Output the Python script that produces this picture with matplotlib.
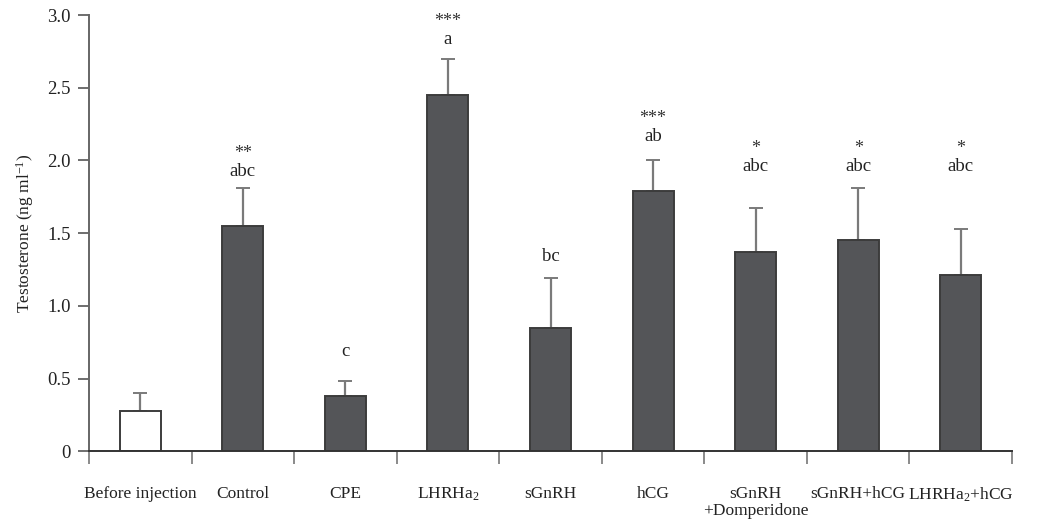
import matplotlib
matplotlib.use("Agg")
import matplotlib.pyplot as plt
import numpy as np

# Serum testosterone after hormone treatments (mean + SEM)
groups = ["Before injection", "Control", "CPE", "$\\mathregular{LHRHa_2}$", "sGnRH", "hCG",
          "sGnRH\n+Domperidone", "sGnRH+hCG", "$\\mathregular{LHRHa_2}$+hCG"]
means = [0.28, 1.55, 0.38, 2.45, 0.85, 1.79, 1.37, 1.45, 1.21]
sems = [0.12, 0.26, 0.10, 0.25, 0.34, 0.21, 0.30, 0.36, 0.32]
letters = ["", "abc", "c", "a", "bc", "ab", "abc", "abc", "abc"]
stars = ["", "**", "", "***", "", "***", "*", "*", "*"]

# vertical placement of the significance labels (data units)
label_y = [None, 1.925, 0.683, 2.83, 1.34, 2.165, 1.96, 1.96, 1.96]

plt.rcParams["font.family"] = ["Liberation Serif", "DejaVu Serif"]
plt.rcParams["mathtext.fontset"] = "custom"
plt.rcParams["mathtext.rm"] = "Liberation Serif"
plt.rcParams["mathtext.it"] = "Liberation Serif:italic"

fig = plt.figure(figsize=(10.43, 5.23), dpi=100)
ax = fig.add_axes([89 / 1043, 71.7 / 523, 923 / 1043, 436.3 / 523])

n = len(groups)
x = np.arange(n) + 0.5
fills = ["white"] + ["#545558"] * (n - 1)
edges = ["#3c3c3c"] * n

ax.errorbar(x, means, yerr=[np.zeros(n), sems], fmt="none", ecolor="#7a7a7a",
            elinewidth=1.6, capsize=5, capthick=1.4, zorder=1)
ax.bar(x, means, width=0.4, color=fills, edgecolor=edges, linewidth=1.4, zorder=2)

for xi, ly, let, st in zip(x, label_y, letters, stars):
    if ly is None:
        continue
    ax.text(xi, ly, let, ha="center", va="center", fontsize=13.5, color="#222222")
    if st:
        ax.annotate(st, (xi, ly), xytext=(0, 7), textcoords="offset points",
                    ha="center", va="bottom", fontsize=13, color="#333333",
                    annotation_clip=False)

ax.set_xlim(0, n)
ax.set_ylim(0, 3.0)
ax.set_yticks([0, 0.5, 1.0, 1.5, 2.0, 2.5, 3.0])
ax.set_yticklabels(["0", "0.5", "1.0", "1.5", "2.0", "2.5", "3.0"])
ax.tick_params(axis="y", direction="out", length=8, width=1.2, color="#555555",
               labelsize=13.5, pad=5, labelcolor="#222222")

ax.set_xticks(np.arange(n + 1))
ax.set_xticklabels([])
ax.set_xticks(x, minor=True)
ax.set_xticklabels(groups, minor=True)
ax.tick_params(axis="x", which="major", direction="out", length=9, width=1.2, color="#777777")
ax.tick_params(axis="x", which="minor", length=0, pad=25, labelsize=12.5, labelcolor="#222222")
for lab in ax.get_xticklabels(minor=True):
    lab.set_verticalalignment("top")
    lab.set_multialignment("center")
    lab.set_linespacing(1.05)

ax.set_ylabel("Testosterone (ng ml$^{\\mathregular{-1}}$)", fontsize=12.5, color="#222222")
ax.yaxis.set_label_coords(-0.057, 0.5)

for side in ["top", "right"]:
    ax.spines[side].set_visible(False)
ax.spines["left"].set_color("#666666")
ax.spines["left"].set_linewidth(1.4)
ax.spines["bottom"].set_color("#333333")
ax.spines["bottom"].set_linewidth(1.4)

fig.savefig("out.png", dpi=100)
